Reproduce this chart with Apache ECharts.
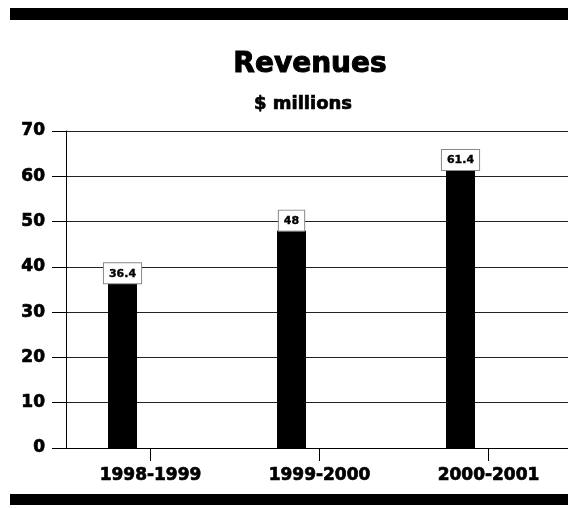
<!DOCTYPE html>
<html>
<head>
<meta charset="utf-8">
<script src="https://cdn.jsdelivr.net/npm/echarts@6/dist/echarts.min.js"></script>
<style>
  html, body { margin: 0; padding: 0; background: #fff; overflow: hidden; }
  #chart { width: 580px; height: 508px; }
</style>
</head>
<body>
<div id="chart"></div>
<script>
// data
const years = ['1998-1999', '1999-2000', '2000-2001'];
const revenues = [36.4, 48, 61.4];
const yTicks = [0, 10, 20, 30, 40, 50, 60, 70];

const font = 'DejaVu Sans, Liberation Sans, sans-serif';
// heavy look: bold face plus a thin stroke of the same colour
const heavy = { fontFamily: font, fontWeight: 'bold', color: '#000', textBorderColor: '#000', textBorderWidth: 0.7 };
const chart = echarts.init(document.getElementById('chart'));

chart.setOption({
  animation: false,
  backgroundColor: '#fff',
  title: [
    {
      text: 'Revenues',
      left: 305,
      textAlign: 'center',
      top: 46,
      textStyle: Object.assign({}, heavy, { fontSize: 28, textBorderWidth: 1 })
    },
    {
      text: '$ millions',
      left: 298,
      textAlign: 'center',
      top: 90,
      textStyle: Object.assign({}, heavy, { fontSize: 18 })
    }
  ],
  graphic: [
    { type: 'rect', shape: { x: 10, y: 8, width: 560, height: 12 }, style: { fill: '#000' } },
    { type: 'rect', shape: { x: 10, y: 494, width: 560, height: 11 }, style: { fill: '#000' } }
  ],
  grid: { left: 66, right: 7, top: 131, bottom: 60, containLabel: false },
  xAxis: {
    type: 'category',
    data: years,
    axisLine: { lineStyle: { color: '#000', width: 1 } },
    axisTick: { show: true, alignWithLabel: true, length: 13, lineStyle: { color: '#000' } },
    axisLabel: Object.assign({ margin: 19, fontSize: 17 }, heavy)
  },
  yAxis: {
    type: 'value',
    min: yTicks[0],
    max: yTicks[yTicks.length - 1],
    interval: 10,
    axisLine: { show: true, lineStyle: { color: '#000', width: 1 } },
    axisTick: { show: true, length: 14, lineStyle: { color: '#000' } },
    axisLabel: Object.assign({ margin: 21, fontSize: 17 }, heavy),
    splitLine: { lineStyle: { color: '#222', width: 1 } }
  },
  series: [
    {
      type: 'bar',
      data: revenues,
      barWidth: 29,
      barGap: '93%',
      itemStyle: { color: '#000' },
      label: Object.assign({
        show: true,
        position: 'top',
        distance: 0,
        fontSize: 11,
        backgroundColor: '#fff',
        borderColor: '#888',
        borderWidth: 1,
        padding: [5, 5, 4, 5]
      }, heavy, { textBorderColor: '#000', textBorderWidth: 0.4 })
    },
    {
      type: 'bar',
      data: [],
      barWidth: 29
    }
  ]
});
</script>
</body>
</html>
